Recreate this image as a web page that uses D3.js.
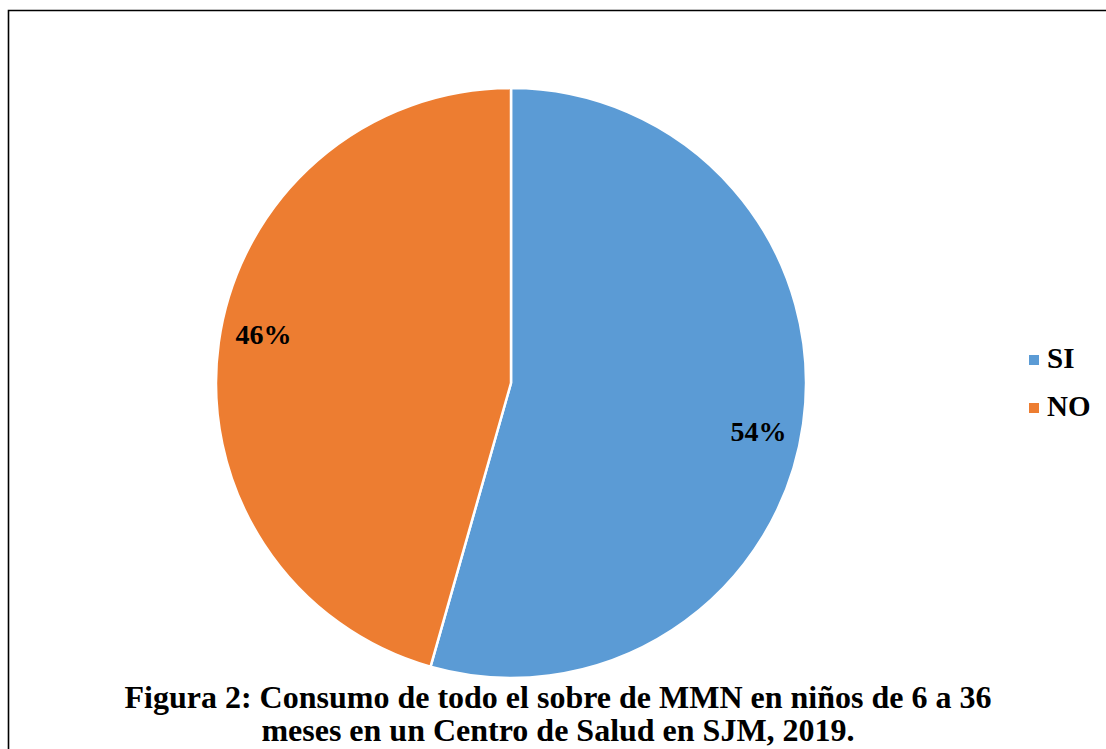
<!DOCTYPE html>
<html>
<head>
<meta charset="utf-8">
<script src="https://cdn.jsdelivr.net/npm/d3@7"></script>
<style>
  html, body { margin: 0; padding: 0; background: #fff; }
  svg { display: block; }
</style>
</head>
<body>
<div id="chart"></div>
<script>
// data
const categories = ["SI", "NO"];
const values = [54.4, 45.6];
const colors = ["#5B9BD5", "#ED7D31"];
const titleLines = [
  "Figura 2: Consumo de todo el sobre de MMN en niños de 6 a 36",
  "meses en un Centro de Salud en SJM, 2019."
];

const width = 1106;
const height = 749;
const cx = 511, cy = 383, radius = 295;
const serif = "'Liberation Serif', 'Times New Roman', serif";

const svg = d3.select("#chart").append("svg")
    .attr("width", width)
    .attr("height", height);

// frame (left + top edge only visible)
svg.append("path")
    .attr("d", `M8.5,${height} L8.5,10.5 L${width},10.5`)
    .attr("fill", "none")
    .attr("stroke", "#000")
    .attr("stroke-width", 1.6);

const data = categories.map((c, i) => ({name: c, value: values[i], color: colors[i]}));

const pie = d3.pie()
    .sort(null)
    .value(d => d.value);

const arc = d3.arc()
    .innerRadius(0)
    .outerRadius(radius);

const labelArc = d3.arc()
    .innerRadius(radius * 0.855)
    .outerRadius(radius * 0.855);

const g = svg.append("g")
    .attr("transform", `translate(${cx},${cy})`);

const arcs = pie(data);

g.selectAll("path")
  .data(arcs)
  .join("path")
    .attr("d", arc)
    .attr("fill", d => d.data.color)
    .attr("stroke", "#fff")
    .attr("stroke-width", 2.5)
    .attr("stroke-linejoin", "round");

// labels sit a little clockwise of the slice middle
const shift = 0.055;
g.selectAll("text")
  .data(arcs)
  .join("text")
    .attr("transform", d => `translate(${labelArc.centroid({startAngle: d.startAngle + shift, endAngle: d.endAngle + shift})})`)
    .attr("text-anchor", "middle")
    .attr("dy", "0.35em")
    .style("font", `bold 28px ${serif}`)
    .attr("fill", "#000")
    .text(d => Math.round(d.data.value) + "%");

// legend
const legend = svg.append("g")
  .selectAll("g")
  .data(data)
  .join("g")
    .attr("transform", (d, i) => `translate(1029,${355 + i * 48})`);

legend.append("rect")
    .attr("width", 10)
    .attr("height", 10)
    .attr("fill", d => d.color);

legend.append("text")
    .attr("x", 18)
    .attr("y", 13)
    .style("font", `bold 29px ${serif}`)
    .text(d => d.name);

// caption
svg.append("g")
  .selectAll("text")
  .data(titleLines)
  .join("text")
    .attr("x", 558)
    .attr("y", (d, i) => 708 + i * 33)
    .attr("text-anchor", "middle")
    .style("font", `bold 32px ${serif}`)
    .text(d => d);
</script>
</body>
</html>
